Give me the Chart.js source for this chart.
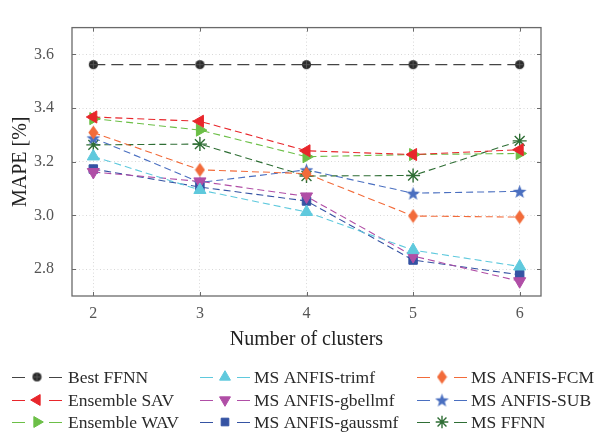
<!DOCTYPE html>
<html><head><meta charset="utf-8">
<script src="https://cdn.jsdelivr.net/npm/chart.js@4"></script>
<style>html,body{margin:0;padding:0;background:#fff}</style>
</head><body>
<canvas id="c" width="599" height="432" style="width:599px;height:432px;display:block"></canvas>
<script>
const clusters = [2, 3, 4, 5, 6];
const xTicks = [2, 3, 4, 5, 6];
const yTicks = [2.8, 3.0, 3.2, 3.4, 3.6];
const seriesNames = ['Best FFNN','Ensemble SAV','Ensemble WAV','MS ANFIS-trimf','MS ANFIS-gbellmf','MS ANFIS-gaussmf','MS ANFIS-FCM','MS ANFIS-SUB','MS FFNN'];
const bestFFNN     = [3.562, 3.562, 3.562, 3.562, 3.562];
const ensembleSAV  = [3.367, 3.351, 3.241, 3.227, 3.245];
const ensembleWAV  = [3.361, 3.318, 3.219, 3.227, 3.231];
const anfisTrimf   = [3.220, 3.095, 3.013, 2.871, 2.810];
const anfisGbellmf = [3.162, 3.127, 3.071, 2.849, 2.755];
const anfisGaussmf = [3.173, 3.106, 3.054, 2.834, 2.779];
const anfisFCM     = [3.309, 3.170, 3.156, 2.998, 2.994];
const anfisSUB     = [3.289, 3.123, 3.170, 3.083, 3.090];
const msFFNN       = [3.263, 3.266, 3.147, 3.149, 3.278];

function makeCanvas(w, h, draw) {
  const c = document.createElement('canvas');
  c.width = w; c.height = h;
  draw(c.getContext('2d'), w, h);
  return c;
}
const diamondImg = makeCanvas(11, 15, (g, w, h) => {
  g.fillStyle = '#f26b3a';
  g.beginPath(); g.moveTo(w/2, 0.5); g.lineTo(w-0.5, h/2); g.lineTo(w/2, h-0.5); g.lineTo(0.5, h/2); g.closePath(); g.fill();
});
const starImg = makeCanvas(15, 15, (g, w, h) => {
  g.fillStyle = '#4a6fc0';
  g.beginPath();
  const cx = w/2, cy = h/2 + 0.7, R = 7.2, r = 3.0;
  for (let i = 0; i < 10; i++) {
    const a = -Math.PI/2 + i*Math.PI/5;
    const rr = i % 2 ? r : R;
    g.lineTo(cx + rr*Math.cos(a), cy + rr*Math.sin(a));
  }
  g.closePath(); g.fill();
});
const bestImg = makeCanvas(11, 11, (g, w, h) => {
  g.fillStyle = '#2a2a2a';
  g.beginPath(); g.arc(w/2, h/2, 4.6, 0, Math.PI*2); g.fill();
  g.strokeStyle = '#5a5a5a'; g.lineWidth = 0.8;
  g.beginPath(); g.moveTo(w/2, h/2-4); g.lineTo(w/2, h/2+4); g.moveTo(w/2-4, h/2); g.lineTo(w/2+4, h/2); g.stroke();
});

function ds(label, data, color, lineColor, style, radius, rotation, dash, bw) {
  return {
    label, data: data.map((v, i) => ({x: clusters[i], y: v})),
    borderColor: lineColor, backgroundColor: color,
    pointBackgroundColor: color, pointBorderColor: color,
    pointStyle: style, pointRadius: radius, pointHoverRadius: radius,
    pointRotation: rotation, pointBorderWidth: bw || 1,
    borderWidth: 1.1, borderDash: dash, fill: false, tension: 0, showLine: true
  };
}
const dsh = [7, 4];
const datasets = [
  ds(seriesNames[0], bestFFNN, '#2a2a2a', '#444444', bestImg, 5, 0, [12, 6]),
  ds(seriesNames[1], ensembleSAV, '#e8262b', '#e8262b', 'triangle', 7, -90, dsh),
  ds(seriesNames[2], ensembleWAV, '#6cbf47', '#6cbf47', 'triangle', 7, 90, dsh),
  ds(seriesNames[3], anfisTrimf, '#5fc9dd', '#5fc9dd', 'triangle', 7, 0, dsh),
  ds(seriesNames[4], anfisGbellmf, '#b04ea6', '#b04ea6', 'triangle', 7, 180, dsh),
  ds(seriesNames[5], anfisGaussmf, '#3553a3', '#3553a3', 'rect', 6, 0, dsh),
  ds(seriesNames[6], anfisFCM, '#f26b3a', '#f26b3a', diamondImg, 7, 0, dsh),
  ds(seriesNames[7], anfisSUB, '#4a6fc0', '#4a6fc0', starImg, 7, 0, dsh),
  ds(seriesNames[8], msFFNN, '#2f6e35', '#2f6e35', 'star', 7, 0, dsh, 1.4)
];

const framePlugin = {
  id: 'frame',
  beforeDatasetsDraw(chart) {
    const {ctx, chartArea: a, scales} = chart;
    ctx.save();
    ctx.strokeStyle = '#6a6a6a'; ctx.lineWidth = 1.3;
    ctx.strokeRect(a.left, a.top, a.right - a.left, a.bottom - a.top);
    ctx.lineWidth = 1;
    ctx.beginPath();
    xTicks.forEach(v => {
      const x = Math.round(scales.x.getPixelForValue(v)) + 0.5;
      ctx.moveTo(x, a.bottom); ctx.lineTo(x, a.bottom - 4);
      ctx.moveTo(x, a.top); ctx.lineTo(x, a.top + 4);
    });
    yTicks.forEach(v => {
      const y = Math.round(scales.y.getPixelForValue(v)) + 0.5;
      ctx.moveTo(a.left, y); ctx.lineTo(a.left + 4, y);
      ctx.moveTo(a.right, y); ctx.lineTo(a.right - 4, y);
    });
    ctx.stroke();
    ctx.restore();
  }
};

const legendPlugin = {
  id: 'customLegend',
  afterDraw(chart) {
    const ctx = chart.ctx;
    const cols = [{m: 37, t: 68}, {m: 225, t: 254}, {m: 442, t: 471}];
    const rows = [377, 400, 422];
    chart.data.datasets.forEach((d, i) => {
      const c = cols[Math.floor(i / 3)], y = rows[i % 3];
      ctx.save();
      ctx.strokeStyle = d.borderColor; ctx.lineWidth = 1.2;
      ctx.beginPath();
      ctx.moveTo(c.m - 25, y + 0.5); ctx.lineTo(c.m - 12, y + 0.5);
      ctx.moveTo(c.m + 12, y + 0.5); ctx.lineTo(c.m + 25, y + 0.5);
      ctx.stroke();
      ctx.fillStyle = d.pointBackgroundColor; ctx.strokeStyle = d.pointBorderColor;
      ctx.lineWidth = d.pointBorderWidth;
      Chart.helpers.drawPoint(ctx, {pointStyle: d.pointStyle, radius: d.pointRadius * 0.9, rotation: d.pointRotation, borderWidth: d.pointBorderWidth}, c.m, y);
      ctx.fillStyle = '#2a2a2a';
      ctx.font = '17.5px "Liberation Serif"';
      ctx.textBaseline = 'middle';
      ctx.fillText(d.label, c.t, y + 1);
      ctx.restore();
    });
  }
};

new Chart(document.getElementById('c'), {
  type: 'line',
  data: {datasets},
  plugins: [framePlugin, legendPlugin],
  options: {
    responsive: false, animation: false, devicePixelRatio: 1,
    layout: {padding: {left: 0, right: 58, top: 10, bottom: 80}},
    plugins: {legend: {display: false}, tooltip: {enabled: false}},
    scales: {
      x: {
        type: 'linear', min: 1.8, max: 6.2,
        afterBuildTicks: s => { s.ticks = xTicks.map(v => ({value: v})); },
        afterFit: s => { s.height = 56; },
        grid: {color: '#d8d8d8', lineWidth: 1, drawTicks: false},
        border: {display: false, dash: [1, 2.5]},
        ticks: {padding: 8, color: '#555', font: {family: 'Liberation Serif', size: 16}, callback: v => String(v)},
        title: {display: true, text: 'Number of clusters', color: '#222', font: {family: 'Liberation Serif', size: 20}, padding: {top: 0, bottom: 0}}
      },
      y: {
        type: 'linear', min: 2.7, max: 3.7,
        afterBuildTicks: s => { s.ticks = yTicks.map(v => ({value: v})); },
        afterFit: s => { s.width = 72; },
        grid: {color: '#d8d8d8', lineWidth: 1, drawTicks: false},
        border: {display: false, dash: [1, 2.5]},
        ticks: {padding: 18, color: '#555', font: {family: 'Liberation Serif', size: 16}, callback: v => v.toFixed(1)},
        title: {display: true, text: 'MAPE [%]', color: '#222', font: {family: 'Liberation Serif', size: 20}, padding: {top: 9, bottom: 0}}
      }
    }
  }
});
</script>
</body></html>
